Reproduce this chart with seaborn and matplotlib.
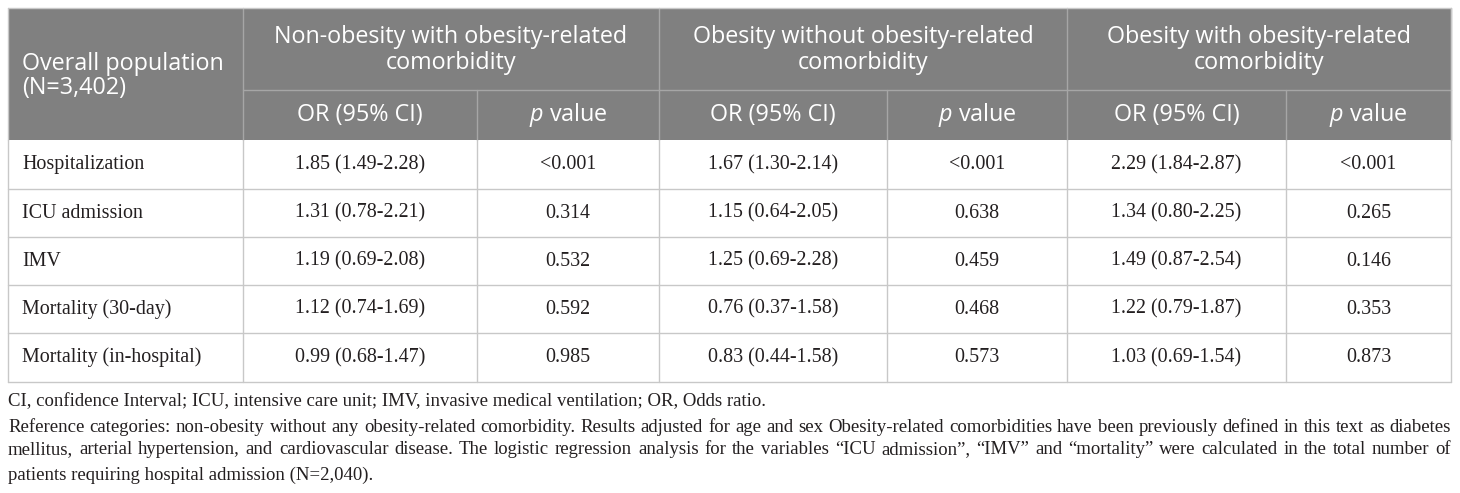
"""
Odds ratios for COVID-19 outcomes by obesity / comorbidity group,
drawn as a publication-style table.
"""

import matplotlib.pyplot as plt
import seaborn as sns
from matplotlib.patches import Rectangle

# --- DATA ---
POPULATION_LABEL = "Overall population\n(N=3,402)"
GROUPS = [
    "Non-obesity with obesity-related\ncomorbidity",
    "Obesity without obesity-related\ncomorbidity",
    "Obesity with obesity-related\ncomorbidity",
]
OUTCOMES = [
    "Hospitalization",
    "ICU admission",
    "IMV",
    "Mortality (30-day)",
    "Mortality (in-hospital)",
]
OR_NON_OBESE_COMORB = [
    "1.85 (1.49-2.28)",
    "1.31 (0.78-2.21)",
    "1.19 (0.69-2.08)",
    "1.12 (0.74-1.69)",
    "0.99 (0.68-1.47)",
]
P_NON_OBESE_COMORB = ["<0.001", "0.314", "0.532", "0.592", "0.985"]
OR_OBESE_NO_COMORB = [
    "1.67 (1.30-2.14)",
    "1.15 (0.64-2.05)",
    "1.25 (0.69-2.28)",
    "0.76 (0.37-1.58)",
    "0.83 (0.44-1.58)",
]
P_OBESE_NO_COMORB = ["<0.001", "0.638", "0.459", "0.468", "0.573"]
OR_OBESE_COMORB = [
    "2.29 (1.84-2.87)",
    "1.34 (0.80-2.25)",
    "1.49 (0.87-2.54)",
    "1.22 (0.79-1.87)",
    "1.03 (0.69-1.54)",
]
P_OBESE_COMORB = ["<0.001", "0.265", "0.146", "0.353", "0.873"]

FOOTNOTE = [
    "CI, confidence Interval; ICU, intensive care unit; IMV, invasive medical "
    "ventilation; OR, Odds ratio.",
    "Reference categories: non-obesity without any obesity-related comorbidity. "
    "Results adjusted for age and sex Obesity-related comorbidities have been "
    "previously defined in this text as diabetes",
    "mellitus, arterial hypertension, and cardiovascular disease. The logistic "
    "regression analysis for the variables \u201cICU admission\u201d, \u201cIMV\u201d "
    "and \u201cmortality\u201d were calculated in the total number of",
    "patients requiring hospital admission (N=2,040).",
]
JUSTIFIED = [False, True, True, False]

# --- LAYOUT (pixels) ---
W, H = 1460, 493
COL_EDGES = [8, 243, 477, 659, 887, 1067, 1286, 1451]
HEAD_TOP, HEAD_MID, HEAD_BOT = 8, 90, 140
ROW_EDGES = [140, 189, 237, 285, 333, 382]
FOOT_Y = [402, 427, 450, 475]

HEAD_COLOR = "#808080"
HEAD_LINE = "#a6a6a6"
BODY_LINE = "#c8c8c8"
TEXT_COLOR = "#231f20"
SANS = ["Open Sans", "DejaVu Sans"]
SERIF = ["Liberation Serif", "DejaVu Serif"]
HEAD_FS = 16.8
BODY_FS = 14.4
FOOT_FS = 13.5

sns.set_theme(style="white")
plt.rcParams["mathtext.fontset"] = "custom"
plt.rcParams["mathtext.it"] = "Open Sans:italic"
plt.rcParams["mathtext.rm"] = "Open Sans"

fig = plt.figure(figsize=(W / 100, H / 100), dpi=100)
ax = fig.add_axes([0, 0, 1, 1])
ax.set_xlim(0, W)
ax.set_ylim(H, 0)
ax.axis("off")

# header background
ax.add_patch(Rectangle((COL_EDGES[0], HEAD_TOP), COL_EDGES[-1] - COL_EDGES[0],
                       HEAD_BOT - HEAD_TOP, color=HEAD_COLOR, lw=0))

# header lines
for x in COL_EDGES[1::2]:
    ax.plot([x, x], [HEAD_TOP, HEAD_BOT], color=HEAD_LINE, lw=1)
for x in COL_EDGES[2:-1:2]:
    ax.plot([x, x], [HEAD_MID, HEAD_BOT], color=HEAD_LINE, lw=1)
ax.plot([COL_EDGES[1], COL_EDGES[-1]], [HEAD_MID, HEAD_MID], color=HEAD_LINE, lw=1)

# body lines
for y in ROW_EDGES[1:]:
    ax.plot([COL_EDGES[0], COL_EDGES[-1]], [y, y], color=BODY_LINE, lw=1)
for x in COL_EDGES:
    ax.plot([x, x], [HEAD_BOT, ROW_EDGES[-1]], color=BODY_LINE, lw=1)
for x in (COL_EDGES[0], COL_EDGES[-1]):
    ax.plot([x, x], [HEAD_TOP, HEAD_BOT], color=BODY_LINE, lw=1)
ax.plot([COL_EDGES[0], COL_EDGES[-1]], [HEAD_TOP, HEAD_TOP], color=BODY_LINE, lw=1)

# header text
ax.text(COL_EDGES[0] + 14, (HEAD_TOP + HEAD_BOT) / 2 + 2, POPULATION_LABEL,
        ha="left", va="center", color="white", fontsize=HEAD_FS, family=SANS,
        linespacing=1.05)
for g, title in enumerate(GROUPS):
    x0, x1 = COL_EDGES[1 + 2 * g], COL_EDGES[3 + 2 * g]
    ax.text((x0 + x1) / 2, (HEAD_TOP + HEAD_MID) / 2 + 1, title, ha="center",
            va="center", color="white", fontsize=HEAD_FS, family=SANS,
            linespacing=1.15)
    ax.text((COL_EDGES[1 + 2 * g] + COL_EDGES[2 + 2 * g]) / 2,
            (HEAD_MID + HEAD_BOT) / 2, "OR (95% CI)", ha="center", va="center",
            color="white", fontsize=HEAD_FS, family=SANS)
    ax.text((COL_EDGES[2 + 2 * g] + COL_EDGES[3 + 2 * g]) / 2,
            (HEAD_MID + HEAD_BOT) / 2, r"$\it{p}$ value", ha="center",
            va="center", color="white", fontsize=HEAD_FS, family=SANS)

# body text
columns = [OR_NON_OBESE_COMORB, P_NON_OBESE_COMORB, OR_OBESE_NO_COMORB,
           P_OBESE_NO_COMORB, OR_OBESE_COMORB, P_OBESE_COMORB]
for r, outcome in enumerate(OUTCOMES):
    yc = (ROW_EDGES[r] + ROW_EDGES[r + 1]) / 2
    ax.text(COL_EDGES[0] + 14, yc, outcome, ha="left", va="center",
            color=TEXT_COLOR, fontsize=BODY_FS, family=SERIF)
    for c, values in enumerate(columns):
        xc = (COL_EDGES[1 + c] + COL_EDGES[2 + c]) / 2
        ax.text(xc, yc, values[r], ha="center", va="center", color=TEXT_COLOR,
                fontsize=BODY_FS, family=SERIF)

# footnote (lines 2 and 3 are justified to the table width)
renderer = fig.canvas.get_renderer()
for y, line, justify in zip(FOOT_Y, FOOTNOTE, JUSTIFIED):
    if not justify:
        ax.text(COL_EDGES[0], y, line, ha="left", va="center", color=TEXT_COLOR,
                fontsize=FOOT_FS, family=SERIF)
        continue
    words = line.split(" ")
    pieces = [ax.text(0, y, w, ha="left", va="center", color=TEXT_COLOR,
                      fontsize=FOOT_FS, family=SERIF) for w in words]
    widths = [p.get_window_extent(renderer).width for p in pieces]
    gap = (COL_EDGES[-1] - COL_EDGES[0] - sum(widths)) / (len(words) - 1)
    x = COL_EDGES[0]
    for p, wdt in zip(pieces, widths):
        p.set_x(x)
        x += wdt + gap

fig.savefig("out.png", dpi=100)
